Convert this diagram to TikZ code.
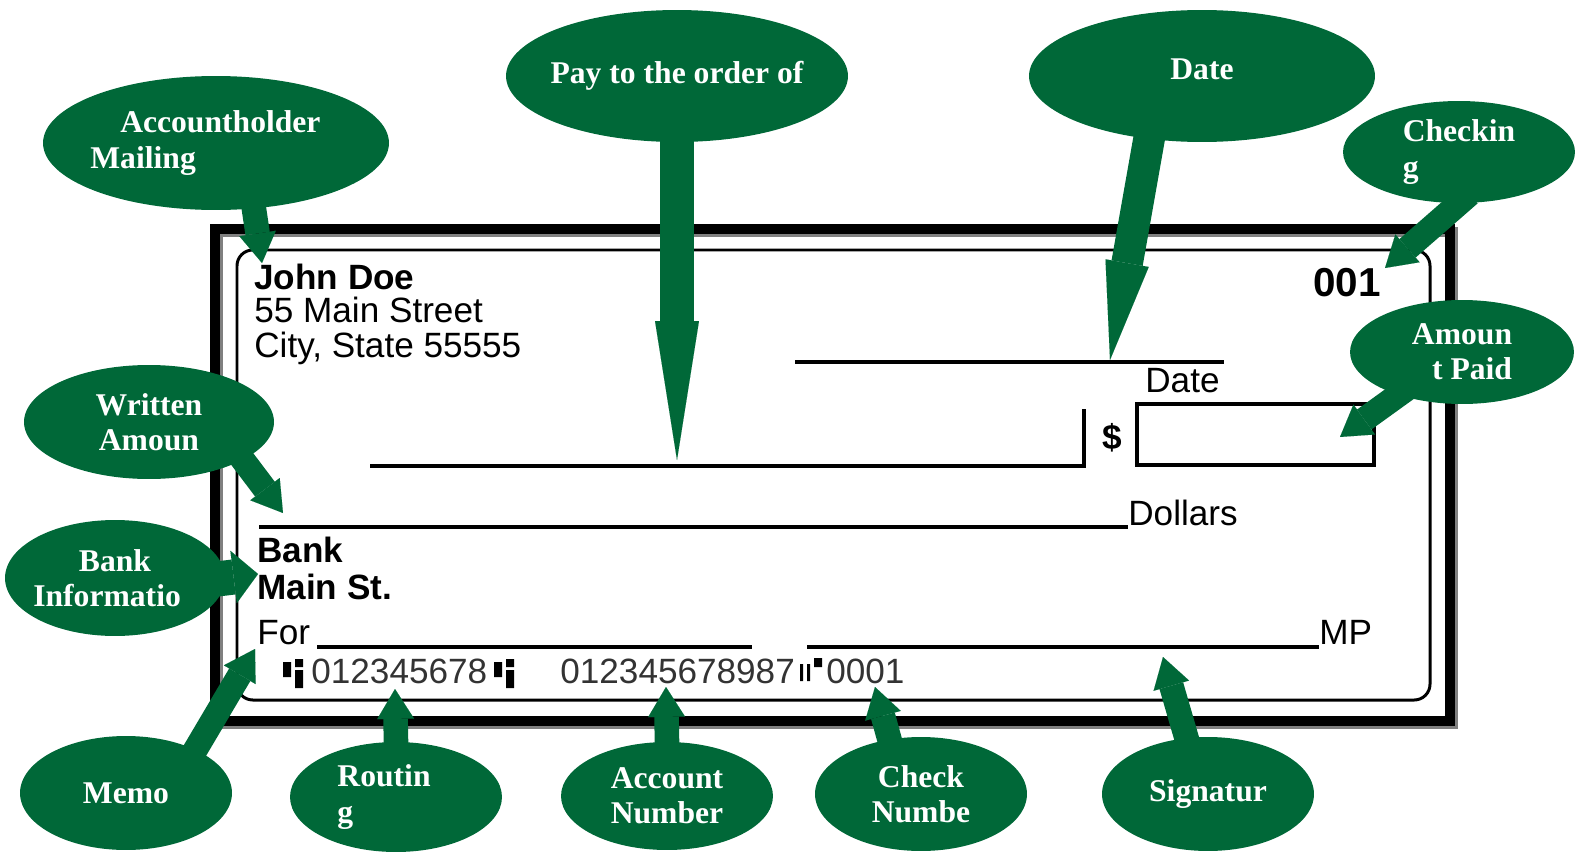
\documentclass[tikz,border=0pt]{standalone}
\usepackage{fontspec}
\setmainfont{Liberation Serif}
\setsansfont{Liberation Sans}
\usepackage{tikz}
\usetikzlibrary{shapes.geometric,arrows.meta}
\definecolor{chkgreen}{HTML}{006838}
\newcommand{\calloutfont}{\fontsize{18}{20}\selectfont\bfseries}
\newcommand{\checkfont}{\sffamily\fontsize{20}{22}\selectfont}
\newcommand{\micrfont}{\sffamily\fontsize{20}{22}\selectfont\color{black!80}}
\pgfkeys{tikz/mycallout/.style 2 args={ellipse, 
                                       fill=chkgreen, 
                                       text=white, 
                                       inner sep=0pt, 
                                       minimum width=#1, 
                                       minimum height=#2, 
                                       font=\calloutfont}}
\pgfkeys{tikz/mypointer/.style={draw=chkgreen, 
                                    line width=14pt, 
                                    shorten <=-8pt, 
                                    -{Triangle[width=21pt,length=17pt,line width=0.01pt]}}}
\pgfkeys{tikz/mycheckline/.style={line width=2.4pt, black}}
\pgfkeys{tikz/mychecktext/.style={inner sep=0pt, anchor=base west, font=\checkfont}}
\begin{document}
\begin{tikzpicture}[x=0.02cm, y=-0.02cm]
                    \useasboundingbox (0,0) rectangle (1576,852);
                        \draw [line width=5.7pt, gray] (218,232) rectangle (1453,724);
                        \draw [line width=5.7pt, black] (215,229) rectangle (1450,721);
                        \draw [line width=1.7pt, black, rounded corners=9pt] (237,250) rectangle (1430,700);

                        \node [mychecktext, font=\checkfont\bfseries] (holder) at (254,289) {John Doe};
                        \node [mychecktext] (street) at (254,322) {55 Main Street};
                        \node [mychecktext] (city) at (254,357) {City, State 55555};
                        \node [mychecktext, anchor=base east, font=\sffamily\bfseries\fontsize{23}{26}\selectfont] (number) at (1381,296) {001};
                        \draw [mycheckline] (795,362) -- (1224,362);
                        \node [mychecktext] (datelabel) at (1145,392) {Date};
                        \draw [mycheckline] (370,466) -- (1084,466) -- (1084,409);
                        \node [mychecktext, font=\checkfont\bfseries] (dollar) at (1102,449) {\$};
                        \draw [line width=2pt] (1137,404) rectangle (1374,465);
                        \draw [mycheckline, line width=2.8pt] (259,527) -- (1128,527);
                        \node [mychecktext] (dollars) at (1128,525) {Dollars};
                        \node [mychecktext, font=\checkfont\bfseries] (bank) at (257,562) {Bank};
                        \node [mychecktext, font=\checkfont\bfseries] (branch) at (257,599) {Main St.};
                        \node [mychecktext] (memolabel) at (257,644) {For};
                        \draw [mycheckline] (317,647) -- (752,647);
                        \draw [mycheckline] (807,647) -- (1319,647);
                        \node [mychecktext] (mp) at (1319,644) {MP};

                        \fill (283,662) rectangle (291,677) (295,659) rectangle (303,667) (295,670) rectangle (303,688);
                        \fill (494,662) rectangle (502,677) (506,659) rectangle (514,667) (506,670) rectangle (514,688);
                        \fill (800,664) rectangle (803,681) (807,664) rectangle (810,681) (814,658) rectangle (822,667);
                        \node [mychecktext, font=\micrfont] (routingno) at (311,683) {012345678};
                        \node [mychecktext, font=\micrfont] (accountno) at (560,683) {012345678987};
                        \node [mychecktext, font=\micrfont] (checkno) at (826,683) {0001};

                        \node [mycallout={69.2mm}{26.8mm}, inner xsep=-9pt, align=left] (holdercall) at (216,143) {\hspace{17pt}Accountholder\rule{12pt}{0pt}\\Mailing};
                        \node [mycallout={68.4mm}{26.4mm}, inner xsep=-5pt] (paycall) at (677,76) {Pay to the order of};
                        \node [mycallout={69.2mm}{26.4mm}] (datecall) at (1202,76) {Date\rule[-8pt]{0pt}{0pt}};
                        \node [mycallout={46.4mm}{20.4mm}, align=left] (checkingcall) at (1459,152) {Checkin\\g};
                        \node [mycallout={44.8mm}{20.8mm}, align=right] (amountcall) at (1462,352) {Amoun\\t Paid};
                        \node [mycallout={50mm}{22.8mm}, align=center] (writtencall) at (149,422) {Written\\Amoun};
                        \node [mycallout={44mm}{23.2mm}, inner xsep=-5pt, align=center] (bankcall) at (115,578) {Bank\\Informatio\rule{9pt}{0pt}};
                        \node [mycallout={42.4mm}{22.8mm}] (memocall) at (126,793) {Memo};
                        \node [mycallout={42.4mm}{22mm}, align=left] (routingcall) at (396,797) {Routin\rule{13.6pt}{0pt}\\g};
                        \node [mycallout={42.4mm}{21.6mm}, align=center] (accountcall) at (667,796) {Account\\Number};
                        \node [mycallout={42.4mm}{22.8mm}, align=center] (checknocall) at (921,794) {Check\\Numbe};
                        \node [mycallout={42.4mm}{22.8mm}] (sigcall) at (1208,794) {Signatur};

                        \coordinate (holdertip) at (262,263);
                        \coordinate (paytip) at (677,460);
                        \coordinate (datetip) at (1110,360);
                        \coordinate (checkingtip) at (1385,268);
                        \coordinate (amounttip) at (1340,437);
                        \coordinate (writtentip) at (283,513);
                        \coordinate (banktip) at (258,574);
                        \coordinate (memotip) at (255,649);
                        \coordinate (routingtip) at (395,689);
                        \coordinate (accounttip) at (666,687);
                        \coordinate (checknotip) at (875,687);
                        \coordinate (sigtip) at (1163,657);

                        \draw [mypointer] (holdercall.300) -- (holdertip);
                        \draw [mypointer, line width=19pt, -{Triangle[width=25pt,length=79pt,line width=0.01pt]}] (paycall.south) -- (paytip);
                        \draw [mypointer, line width=18pt, -{Triangle[width=25pt,length=56pt,line width=0.01pt]}] (datecall.230) -- (datetip);
                        \draw [mypointer] (checkingcall.270) -- (checkingtip);
                        \draw [mypointer] (amountcall.214) -- (amounttip);
                        \draw [mypointer] (writtencall.338) -- (writtentip);
                        \draw [mypointer, line width=20pt, -{Triangle[width=30pt,length=14pt,line width=0.01pt]}] (bankcall.east) -- (banktip);
                        \draw [mypointer] (memocall.32) -- (memotip);
                        \draw [mypointer] (routingcall.north) -- (routingtip);
                        \draw [mypointer] (accountcall.north) -- (accounttip);
                        \draw [mypointer] (checknocall.120) -- (checknotip);
                        \draw [mypointer] (sigcall.111) -- (sigtip);
                \end{tikzpicture}
\end{document}
